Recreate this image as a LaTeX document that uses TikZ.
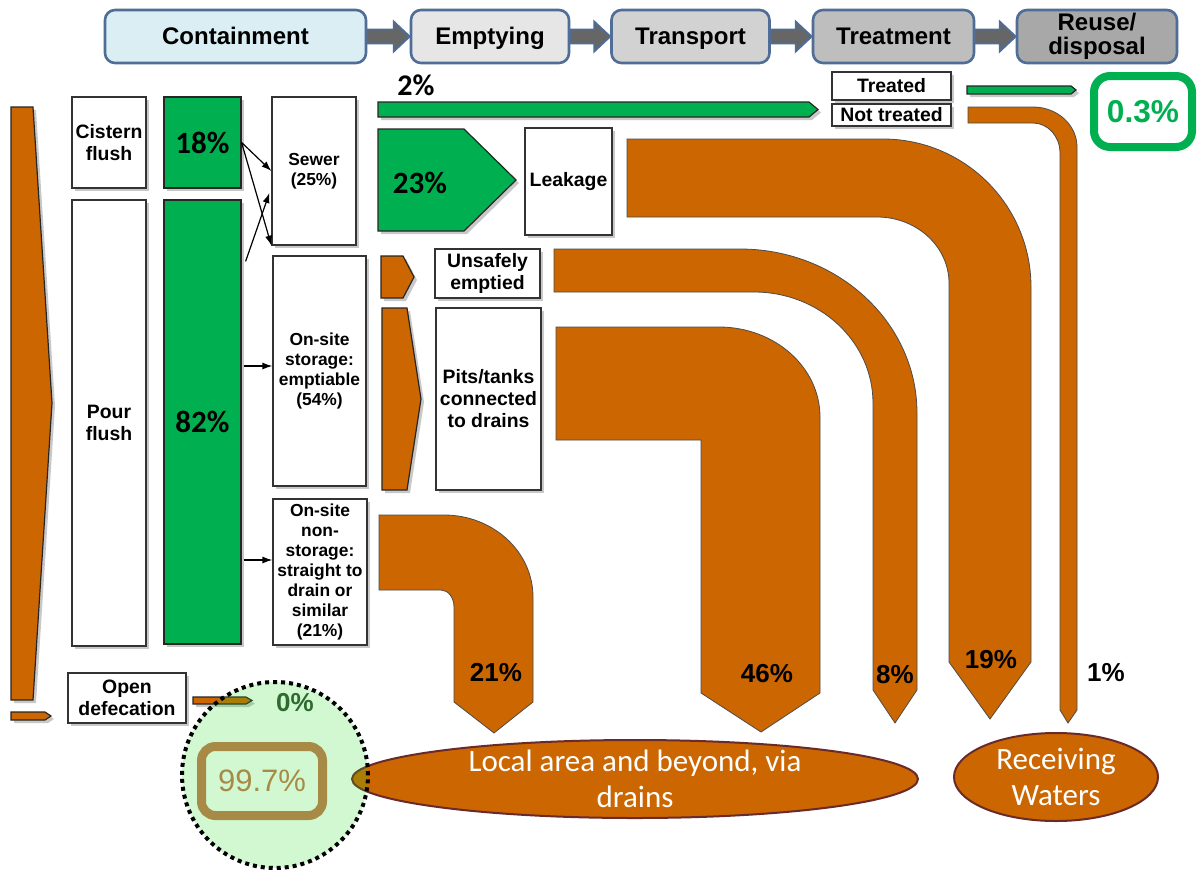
\documentclass[tikz,border=0pt]{standalone}
\usepackage{fontspec}
\setmainfont{Liberation Sans}
\newfontfamily\calibri{Carlito}
\usetikzlibrary{arrows.meta,shadows,calc,shapes.geometric}
\definecolor{flow}{HTML}{CC6600}
\definecolor{safe}{HTML}{00B050}
\definecolor{hdrline}{HTML}{4F6D96}
\definecolor{hdrarr}{HTML}{666666}
\definecolor{hdrA}{HTML}{DAEEF3}
\definecolor{hdrB}{HTML}{E6E6E6}
\definecolor{hdrC}{HTML}{D2D2D2}
\definecolor{hdrD}{HTML}{BEBEBE}
\definecolor{hdrE}{HTML}{A8A8A8}
\definecolor{rim}{HTML}{6B2A2A}
\definecolor{gold}{HTML}{A68A45}
\definecolor{darkok}{HTML}{2E6B2E}
\definecolor{halo}{HTML}{22DD22}
\begin{document}
\begin{tikzpicture}[x=0.5pt, y=-0.5pt,
  stage/.style={draw=hdrline, line width=1.3pt, rounded corners=5pt, minimum width=79pt, minimum height=26.5pt, inner sep=0pt, align=center, font=\fontsize{12}{12}\selectfont\bfseries},
  oneline/.style={text height=9pt, text depth=1.5pt},
  stagearrow/.style={fill=hdrarr, draw=hdrline, line width=0.9pt},
  lift/.style={drop shadow={shadow xshift=1.5pt, shadow yshift=-1.5pt, opacity=0.3, fill=black!70}},
  card/.style={draw=black!80, fill=white, line width=0.6pt, inner sep=1pt, align=center, lift, font=\fontsize{9.7}{11}\selectfont\bfseries},
  small/.style={font=\fontsize{8.7}{10}\selectfont\bfseries},
  share/.style={draw=black!85, fill=safe, line width=0.6pt, lift},
  flowpoly/.style={draw=black!85, fill=flow, line width=0.6pt, lift},
  greenpoly/.style={draw=black!85, fill=safe, line width=0.6pt, lift},
  band/.style={draw=black!70, fill=flow, line width=0.4pt},
  pct/.style={font=\fontsize{13}{13}\selectfont\bfseries},
  bigpct/.style={font=\fontsize{15.5}{15.5}\calibri\bfseries},
  link/.style={-{Latex[length=5pt,width=3.5pt]}, line width=0.6pt},
  pool/.style={ellipse, draw=rim, line width=1pt, fill=flow},
  pooltext/.style={text=white, align=center, font=\fontsize{15.5}{18}\calibri}]
\fill[white] (0,0) rectangle (1200,869);
\useasboundingbox (0,0) rectangle (1200,869);
\node[stage, oneline, fill=hdrA, minimum width=130.5pt] (contain) at (235.5,36.5) {Containment};
\node[stage, oneline, fill=hdrB] (empty) at (490,36.5) {Emptying};
\node[stage, oneline, fill=hdrC] (transport) at (690.5,36.5) {Transport};
\node[stage, oneline, fill=hdrD, minimum width=80.5pt] (treat) at (893.5,36.5) {Treatment};
\node[stage, fill=hdrE, minimum width=80pt] (reuse) at (1097,36.5) {Reuse/\\disposal};
\foreach \a/\b in {contain/empty, empty/transport, transport/treat, treat/reuse}
  \draw[stagearrow] ($(\a.east)+(0,-7)$) -- ($(\b.west)+(-16,-7)$) -- ($(\b.west)+(-16,-15)$) -- (\b.west) -- ($(\b.west)+(-16,15)$) -- ($(\b.west)+(-16,7)$) -- ($(\a.east)+(0,7)$) -- cycle;
\draw[band] (627,139) -- (883,139) .. controls (964.7,139) and (1031,205.3) .. (1031,287) -- (1031,662) -- (990,719) -- (949,662) -- (949,283) .. controls (949,246.6) and (916.7,217) .. (877,217) -- (627,217) -- cycle;
\draw[band] (554,249) -- (740,249) .. controls (837.7,249) and (917,322.5) .. (917,413) -- (917,690) -- (895,723) -- (873,690) -- (873,403) .. controls (873,341.7) and (819.7,292) .. (754,292) -- (554,292) -- cycle;
\draw[band] (556,327) -- (719,327) .. controls (774.8,327) and (820,367.3) .. (820,417) -- (820,693) -- (761,732) -- (701,693) -- (701,440) -- (556,440) -- cycle;
\draw[band] (379,515) -- (444,515) .. controls (493.1,515) and (533,551.7) .. (533,597) -- (533,702) -- (494,733) -- (454,702) -- (454,607) .. controls (454,597.6) and (448.2,590) .. (441,590) -- (379,590) -- cycle;
\draw[band] (968,107) -- (1033,107) .. controls (1057.3,107) and (1077,124.9) .. (1077,147) -- (1077,710) -- (1068,723) -- (1060,710) -- (1060,153) .. controls (1060,136.4) and (1047.9,123) .. (1033,123) -- (968,123) -- cycle;
\draw[flowpoly] (11,107) -- (33,107) -- (52,403) -- (33,700) -- (11,700) -- cycle;
\draw[flowpoly] (11,712) -- (45,712) -- (51,716) -- (45,720) -- (11,720) -- cycle;
\draw[flowpoly] (381,256) -- (403,256) -- (414,277) -- (403,298) -- (381,298) -- cycle;
\draw[flowpoly] (382,308) -- (407,308) -- (421,399) -- (407,490) -- (382,490) -- cycle;
\draw[flowpoly] (193,697) -- (246,697) -- (252,700.5) -- (246,704) -- (193,704) -- cycle;
\draw[greenpoly] (378,129) -- (464,129) -- (516,180) -- (464,231) -- (378,231) -- cycle;
\draw[greenpoly] (378,102) -- (809,102) -- (818,109.5) -- (809,117) -- (378,117) -- cycle;
\draw[greenpoly] (967,86) -- (1071,86) -- (1076,90) -- (1071,94) -- (967,94) -- cycle;
\node[card, minimum width=37pt, minimum height=45.5pt] (cistern) at (109,142.5) {Cistern\\flush};
\node[card, minimum width=37pt, minimum height=223pt] (pour) at (109,423) {Pour\\flush};
\node[share, bigpct, minimum width=38.5pt, minimum height=45.5pt] (s18) at (202.5,142.5) {18\%};
\node[share, bigpct, minimum width=38.5pt, minimum height=222pt] (s82) at (202.5,422) {82\%};
\node[card, small, minimum width=42pt, minimum height=74pt] (sewer) at (314,171) {Sewer\\(25\%)};
\node[card, small, minimum width=46.5pt, minimum height=115pt] (onsite) at (319.5,371) {On-site\\storage:\\emptiable\\(54\%)};
\node[card, small, minimum width=47pt, minimum height=73pt] (nonstor) at (320,572) {On-site\\non-\\storage:\\straight to\\drain or\\similar\\(21\%)};
\node[card, minimum width=59pt, minimum height=25pt] (opendef) at (127,698) {Open\\defecation};
\node[card, minimum width=43.5pt, minimum height=53.5pt] (leakage) at (568.5,181.5) {Leakage};
\node[card, minimum width=52.5pt, minimum height=24.5pt] (unsafe) at (487.5,273.5) {Unsafely\\emptied};
\node[card, minimum width=52.5pt, minimum height=91pt] (pits) at (488.5,399) {Pits/tanks\\connected\\to drains};
\node[card, minimum width=59.5pt, minimum height=14pt] (treated) at (891.5,86) {Treated};
\node[card, inner sep=0.3pt, minimum width=59.5pt, minimum height=11pt] (nottreated) at (891.5,115) {Not treated};
\node[draw=safe, line width=4pt, rounded corners=8pt, minimum width=49pt, minimum height=35.5pt, text=safe, font=\fontsize{15.8}{16}\selectfont\bfseries] (safeshare) at (1143,111.5) {0.3\%};
\draw[link] (s18.east) -- (sewer.west);
\draw[link] (s18.east) -- (sewer.south west);
\draw[link] ($(s82.north east)+(4,62)$) -- ($(sewer.west)+(-2,22)$);
\draw[link] ($(s82.east |- onsite.west)+(2,-5)$) -- ($(onsite.west)+(0,-5)$);
\draw[link] ($(s82.east |- nonstor.west)+(2,-12)$) -- ($(nonstor.west)+(0,-12)$);
\node[pool, minimum width=283pt, minimum height=39pt] (drains) at (635,779) {};
\node[pooltext] (drainslabel) at (drains) {Local area and beyond, via\\drains};
\node[pool, minimum width=102pt, minimum height=44pt] (waters) at (1056,777) {};
\node[pooltext] (waterslabel) at (waters) {Receiving\\Waters};
\node[circle, draw, line width=2pt, dash pattern=on 2pt off 2pt, fill=halo, fill opacity=0.2, minimum size=93pt] (safezone) at (275,775) {};
\node[draw=gold, line width=4.5pt, rounded corners=7pt, minimum width=60.5pt, minimum height=34.5pt, text=gold, font=\fontsize{15.5}{16}\selectfont] (unsafeshare) at (262,781) {99.7\%};
\node[bigpct, font=\fontsize{15}{15}\calibri\bfseries] (p2) at (416,85) {2\%};
\node[bigpct] (p23) at (420,183) {23\%};
\node[pct, text=darkok] (p0) at (295,703) {0\%};
\node[pct] (p21) at (496,673) {21\%};
\node[pct] (p46) at (767,674) {46\%};
\node[pct] (p8) at (895,675) {8\%};
\node[pct] (p19) at (991,660) {19\%};
\node[pct] (p1) at (1106,673) {1\%};
\end{tikzpicture}
\end{document}
